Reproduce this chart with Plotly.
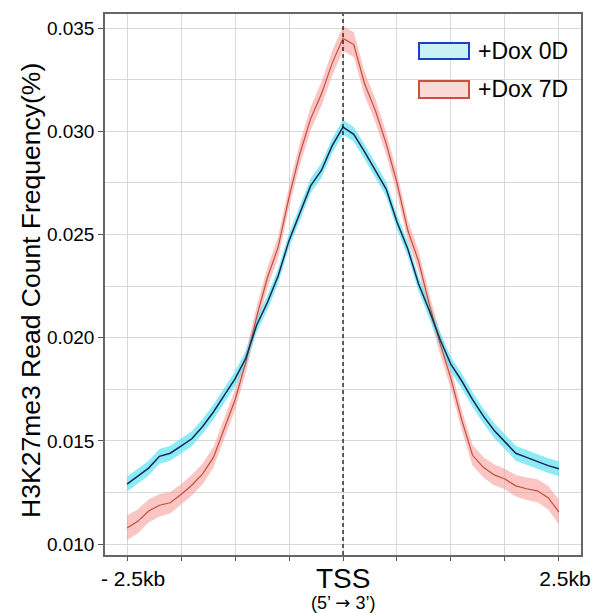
import plotly.graph_objects as go

# ---- data ----
positions_bp = [-2500, -2375, -2250, -2125, -2000, -1875, -1750, -1625, -1500, -1375,
                -1250, -1125, -1000, -875, -750, -625, -500, -375, -250, -125,
                0, 125, 250, 375, 500, 625, 750, 875, 1000, 1125,
                1250, 1375, 1500, 1625, 1750, 1875, 2000, 2125, 2250, 2375, 2500]

dox0d = [0.01290, 0.01330, 0.01368, 0.01425, 0.01440, 0.01475, 0.01510, 0.01570, 0.01640, 0.01720,
         0.01800, 0.01900, 0.02060, 0.02170, 0.02300, 0.02470, 0.02600, 0.02735, 0.02810, 0.02930,
         0.03020, 0.02985, 0.02900, 0.02810, 0.02720, 0.02560, 0.02430, 0.02260, 0.02130, 0.01990,
         0.01870, 0.01790, 0.01700, 0.01620, 0.01550, 0.01495, 0.01440, 0.01420, 0.01400, 0.01380,
         0.01365]
dox0d_err = [0.00036] * 41

dox7d = [0.01078, 0.01110, 0.01160, 0.01188, 0.01200, 0.01240, 0.01285, 0.01340, 0.01420, 0.01560,
         0.01698, 0.01880, 0.02100, 0.02290, 0.02440, 0.02680, 0.02890, 0.03060, 0.03180, 0.03330,
         0.03450, 0.03420, 0.03230, 0.03100, 0.02940, 0.02750, 0.02520, 0.02370, 0.02160, 0.01970,
         0.01800, 0.01600, 0.01430, 0.01372, 0.01335, 0.01315, 0.01282, 0.01268, 0.01258, 0.01225,
         0.01155]
dox7d_err = [0.00060, 0.00058, 0.00056, 0.00054, 0.00052, 0.00050, 0.00050, 0.00050, 0.00050, 0.00050,
             0.00050, 0.00050, 0.00050, 0.00050, 0.00050, 0.00052, 0.00054, 0.00056, 0.00058, 0.00060,
             0.00060, 0.00060, 0.00058, 0.00056, 0.00054, 0.00052, 0.00050, 0.00050, 0.00050, 0.00050,
             0.00050, 0.00050, 0.00050, 0.00050, 0.00050, 0.00050, 0.00052, 0.00054, 0.00056, 0.00058,
             0.00060]

series_names = ["+Dox 0D", "+Dox 7D"]
tss_pos = 0
x_tickvals = [-2500, -1875, -1250, -625, 0, 625, 1250, 1875, 2500]
x_ticktext = ["- 2.5kb", "", "", "", "", "", "", "", "2.5kb"]
y_tickvals = [0.010, 0.015, 0.020, 0.025, 0.030, 0.035]

FONT = "Arial, Liberation Sans, sans-serif"
line_colors = ["#17294f", "#c44e3c"]
band_colors = ["rgba(80,225,242,0.65)", "rgba(245,150,145,0.55)"]
legend_fill = ["#c8f2f4", "#fadad6"]
legend_border = ["#1f3ccc", "#c9503f"]

fig = go.Figure()
for vals, err, bc in [(dox7d, dox7d_err, band_colors[1]),
                      (dox0d, dox0d_err, band_colors[0])]:
    upper = [v + e for v, e in zip(vals, err)]
    lower = [v - e for v, e in zip(vals, err)]
    fig.add_trace(go.Scatter(x=positions_bp, y=upper, mode="lines", line=dict(width=0),
                             showlegend=False, hoverinfo="skip"))
    fig.add_trace(go.Scatter(x=positions_bp, y=lower, mode="lines", line=dict(width=0),
                             fill="tonexty", fillcolor=bc, showlegend=False, hoverinfo="skip"))
for vals, lc, w in [(dox7d, line_colors[1], 1.2), (dox0d, line_colors[0], 1.5)]:
    fig.add_trace(go.Scatter(x=positions_bp, y=vals, mode="lines",
                             line=dict(color=lc, width=w), showlegend=False))

fig.add_vline(x=tss_pos, line=dict(color="black", width=1.2, dash="4px,3px"))

# manual legend
box_y = [(0.9464, 0.9168), (0.8762, 0.8447)]
text_y = [0.9316, 0.8614]
for i in range(2):
    fig.add_shape(type="rect", xref="paper", yref="paper", x0=0.6597, x1=0.7647,
                  y0=box_y[i][1], y1=box_y[i][0], fillcolor=legend_fill[i],
                  line=dict(color=legend_border[i], width=2))
    fig.add_annotation(xref="paper", yref="paper", x=0.779, y=text_y[i], text=series_names[i],
                       showarrow=False, xanchor="left", yanchor="middle",
                       font=dict(family=FONT, size=23, color="black"))

# y title
fig.add_annotation(xref="paper", yref="paper", x=-0.1555, y=0.490,
                   text="H3K27me3 Read Count Frequency(%)", textangle=-90, showarrow=False,
                   xanchor="center", yanchor="middle", font=dict(family=FONT, size=26.5, color="black"))
# TSS label
fig.add_annotation(xref="x", yref="paper", x=tss_pos, y=-0.043, text="TSS", showarrow=False,
                   xanchor="center", yanchor="middle", font=dict(family=FONT, size=28, color="black"))
fig.add_annotation(xref="x", yref="paper", x=tss_pos, y=-0.087,
                   text="(5’ <span style='font-family:DejaVu Sans'>→</span> 3’)", showarrow=False,
                   xanchor="center", yanchor="middle", font=dict(family=FONT, size=18, color="black"))

fig.update_layout(
    width=597, height=613,
    margin=dict(l=105, r=16, t=14, b=58, autoexpand=False),
    paper_bgcolor="white", plot_bgcolor="white",
    font=dict(family=FONT, color="black"),
    showlegend=False,
)
fig.update_xaxes(range=[-2755, 2755], tickvals=x_tickvals, ticktext=x_ticktext,
                 tickfont=dict(size=21, color="black"), ticks="outside", ticklen=4,
                 tickcolor="#555", showgrid=True, gridcolor="#d9d9d9", gridwidth=1,
                 ticklabelshift=6, automargin=False,
                 showline=True, linecolor="#666", linewidth=1.5, mirror=True, zeroline=False)
fig.update_yaxes(range=[0.00947, 0.03568], tickvals=y_tickvals, tickformat=".3f",
                 tickfont=dict(size=19, color="black"), ticks="outside", ticklen=5,
                 tickcolor="#555", showgrid=True, gridcolor="#d9d9d9", gridwidth=1,
                 minor=dict(dtick=0.0025, tick0=0.010, showgrid=True, gridcolor="#d9d9d9", ticks=""),
                 automargin=False,
                 showline=True, linecolor="#666", linewidth=1.5, mirror=True, zeroline=False)

fig.write_html("out.html")
